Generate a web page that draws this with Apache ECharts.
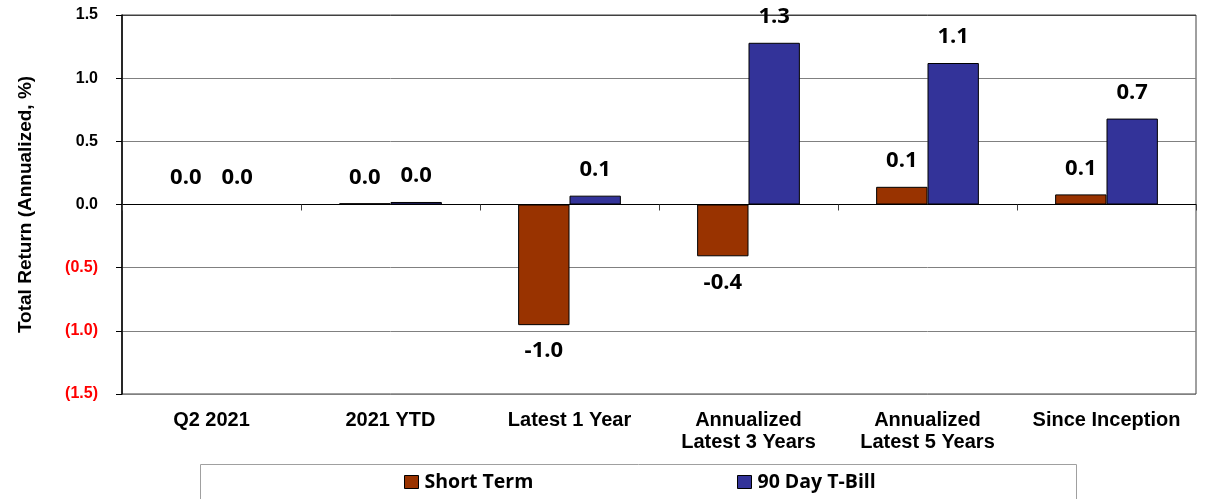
<!DOCTYPE html>
<html>
<head>
<meta charset="utf-8">
<script src="https://cdn.jsdelivr.net/npm/echarts@6/dist/echarts.min.js"></script>
<style>
  html, body { margin: 0; padding: 0; background: #fff; }
  #chart { width: 1206px; height: 499px; }
</style>
</head>
<body>
<div id="chart"></div>
<script>
// categories and values
const categories = ['Q2 2021', '2021 YTD', 'Latest 1 Year', 'Annualized\nLatest 3 Years', 'Annualized\nLatest 5 Years', 'Since Inception'];
const shortTerm = [0.0, 0.01, -0.955, -0.41, 0.14, 0.08];
const tBill = [0.0, 0.02, 0.07, 1.28, 1.12, 0.68];
const seriesNames = ['Short Term', '90 Day T-Bill'];

const axisFont = '"Liberation Sans", Arial, sans-serif';
const labelFont = '"Open Sans", sans-serif';

function barLabel(p) {
    return p.value.toFixed(1);
}

function makeSeries(name, data, color) {
    return {
        name: name,
        type: 'bar',
        data: data.map(v => ({
            value: v,
            label: { position: v < 0 ? 'bottom' : 'top' }
        })),
        barGap: '0%',
        barCategoryGap: '42.6%',
        itemStyle: { color: color, borderColor: '#000', borderWidth: 1 },
        label: {
            show: true,
            distance: 15,
            formatter: barLabel,
            fontFamily: labelFont,
            fontWeight: 'bold',
            fontSize: 22,
            color: '#000'
        }
    };
}

function legendFor(name, left) {
    return {
        data: [name], left: left, top: 472, padding: 0,
        icon: 'rect', itemWidth: 14, itemHeight: 13,
        itemStyle: { borderColor: '#000', borderWidth: 1 },
        textStyle: { fontFamily: labelFont, fontWeight: 'bold', fontSize: 19.5, color: '#000', padding: [0, 0, 0, 1] }
    };
}

let myChart = echarts.init(document.getElementById('chart'));
const option = {
    animation: false,
    grid: {
        left: 122, right: 10, top: 15, bottom: 105,
        show: true, borderColor: '#404040', borderWidth: 1
    },
    legend: [
        legendFor(seriesNames[0], 404),
        legendFor(seriesNames[1], 737)
    ],
    graphic: [{
        type: 'rect',
        shape: { x: 200.5, y: 464.5, width: 876, height: 50 },
        style: { fill: 'none', stroke: '#a0a0a0', lineWidth: 1 },
        silent: true
    }],
    xAxis: [
        {
            type: 'category',
            data: categories,
            position: 'bottom',
            axisLine: { onZero: true, lineStyle: { color: '#000', width: 1 } },
            axisTick: { show: true, length: 6, inside: false, lineStyle: { color: '#404040' } },
            axisLabel: { show: false },
            splitLine: { show: false }
        },
        {
            type: 'category',
            data: categories,
            position: 'bottom',
            axisLine: { show: false, onZero: false },
            axisTick: { show: false },
            axisLabel: {
                interval: 0,
                margin: 15,
                fontFamily: axisFont,
                fontWeight: 'bold',
                fontSize: 20,
                lineHeight: 22,
                color: '#000'
            }
        }
    ],
    yAxis: {
        type: 'value',
        min: -1.5,
        max: 1.5,
        interval: 0.5,
        name: 'Total Return (Annualized, %)',
        nameLocation: 'middle',
        nameRotate: 90,
        nameGap: 87,
        nameTextStyle: { fontFamily: axisFont, fontWeight: 'bold', fontSize: 19, color: '#000' },
        axisLine: { show: true, lineStyle: { color: '#000', width: 1.5 } },
        axisTick: { show: true, length: 6, lineStyle: { color: '#000' } },
        axisLabel: {
            margin: 24,
            fontFamily: axisFont,
            fontWeight: 'bold',
            fontSize: 16,
            formatter: v => v < 0 ? '(' + Math.abs(v).toFixed(1) + ')' : v.toFixed(1),
            color: v => Number(v) < 0 ? '#ff0000' : '#000'
        },
        splitLine: {
            show: true,
            lineStyle: { color: ['#808080', '#808080', '#808080', '#000', '#808080', '#808080', '#404040'], width: 1 }
        }
    },
    series: [
        makeSeries(seriesNames[0], shortTerm, '#993300'),
        makeSeries(seriesNames[1], tBill, '#333399')
    ]
};
option && myChart.setOption(option);
</script>
</body>
</html>
